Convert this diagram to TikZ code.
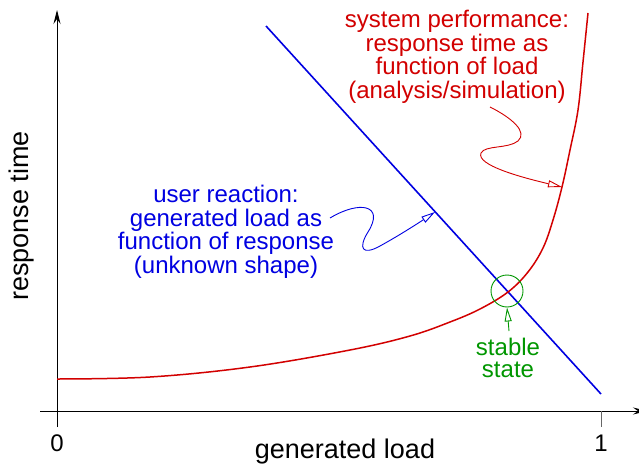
\documentclass[tikz,border=0pt]{standalone}
\usepackage{fontspec}
\setmainfont{Liberation Sans}
\usetikzlibrary{arrows.meta}
\definecolor{cred}{RGB}{210,0,0}
\definecolor{cblue}{RGB}{0,0,225}
\definecolor{cgreen}{RGB}{0,150,0}
\tikzset{
  axis/.style={line width=0.9pt, black},
  axisarrow/.style={-{Stealth[length=14pt,width=7pt,inset=5pt]}},
  labeltext/.style={inner sep=0pt, align=center, font=\fontsize{24}{23.5}\selectfont},
  axislabel/.style={inner sep=0pt, font=\fontsize{27}{30}\selectfont},
  pointer/.style={line width=0.9pt, -{Triangle[open,length=14pt,width=7pt]}},
}
\begin{document}
\begin{tikzpicture}[x=1pt,y=-1pt]
\useasboundingbox (0,0) rectangle (639,468);
% axes
\coordinate (xs) at (40,411);
\coordinate (xe) at (647,411);
\coordinate (ys) at (57,427);
\coordinate (ye) at (57,10);
\draw[axis,axisarrow] (xs) -- (xe);
\draw[axis,axisarrow] (ys) -- (ye);
\coordinate (t1a) at (601,411);
\coordinate (t1b) at (601,427);
\draw[axis, black!60] (t1a) -- (t1b);
\node[axislabel, font=\fontsize{24}{26}\selectfont] (zero) at (57,443) {0};
\node[axislabel, font=\fontsize{24}{26}\selectfont] (one) at (601,443) {1};
\node[axislabel] (xlab) at (345,452) {generated load};
\node[axislabel, rotate=90] (ylab) at (22,216) {response time};
% blue line
\coordinate (b1) at (266,26);
\coordinate (b2) at (601,394);
\draw[cblue, line width=1.6pt] (b1) -- (b2);
% red curve
\draw[cred, line width=1.5pt] plot[smooth, tension=0.6] coordinates {
 (57,379) (150,377) (250,367) (350,350) (410,336) (450,322) (480,309)
 (508,292) (528,272) (543,248) (553,220) (562,187) (570,150) (578,110) (583,62) (588,13)};
% green circle
\node[draw=cgreen, circle, line width=0.9pt, minimum size=32pt, inner sep=0pt] (stab) at (507,291) {};
% texts
\node[labeltext, text=cred] (redtxt) at (457,57) {system performance:\\response time as\\function of load\\(analysis/simulation)};
\node[labeltext, text=cblue] (bluetxt) at (226,232) {user reaction:\\generated load as\\function of response\\(unknown shape)};
\node[labeltext, text=cgreen, font=\fontsize{24}{22.5}\selectfont] (stabtxt) at (508,358) {stable\\state};
% pointers
\coordinate (bs) at (330,218);
\coordinate (bt) at (435,212);
\draw[pointer, cblue] (bs) .. controls (360,200) and (385,205) .. (368,232)
  .. controls (358,248) and (362,256) .. (380,246)
  .. controls (400,235) and (420,222) .. (bt);
\coordinate (rs) at (490,107);
\coordinate (rt) at (562,187);
\draw[pointer, cred] (rs) .. controls (512,118) and (528,132) .. (518,141)
  .. controls (508,149) and (485,145) .. (481,153)
  .. controls (476,165) and (520,177) .. (rt);
\coordinate (gs) at (509,331);
\draw[pointer, cgreen] (gs) -- (stab.south);
\end{tikzpicture}
\end{document}
